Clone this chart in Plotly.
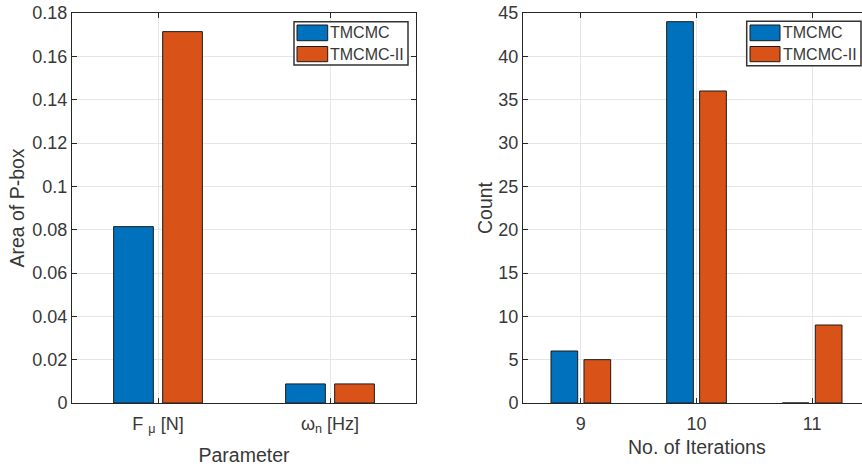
import plotly.graph_objects as go

# ---- data ----
series_names = ["TMCMC", "TMCMC-II"]
series_colors = ["#0072BD", "#D95319"]

param_categories = ["F <sub>μ</sub> [N]", "ω<sub>n</sub> [Hz]"]
pbox_tmcmc = [0.0814, 0.0088]
pbox_tmcmc2 = [0.1714, 0.0088]

iterations = [9, 10, 11]
count_tmcmc = [6, 44, 0]
count_tmcmc2 = [5, 36, 9]

left_ticks = [0, 0.02, 0.04, 0.06, 0.08, 0.1, 0.12, 0.14, 0.16, 0.18]
right_ticks = [0, 5, 10, 15, 20, 25, 30, 35, 40, 45]

W, H = 862, 466
FONT = "Liberation Sans, Arial, Helvetica, sans-serif"
AX = "#262626"
TXT = "#383838"
GRID = "#e6e6e6"

fig = go.Figure()
for name, color, vals in zip(series_names, series_colors, [pbox_tmcmc, pbox_tmcmc2]):
    fig.add_trace(go.Bar(x=param_categories, y=vals, name=name, marker_color=color,
                         marker_line=dict(color="#1a1a1a", width=1),
                         xaxis="x", yaxis="y", showlegend=False))
for name, color, vals in zip(series_names, series_colors, [count_tmcmc, count_tmcmc2]):
    fig.add_trace(go.Bar(x=iterations, y=vals, name=name, marker_color=color,
                         marker_line=dict(color="#1a1a1a", width=1),
                         xaxis="x2", yaxis="y2", showlegend=False))

axcommon = dict(showline=True, linecolor=AX, linewidth=1, ticks="inside", ticklen=5,
                tickcolor=AX, showgrid=True, gridcolor=GRID, gridwidth=1, zeroline=False,
                tickfont=dict(family=FONT, size=18, color=TXT))

L0, L1 = 72 / W, 416 / W
R0, R1 = 523 / W, 1.0
TS = 19.5

fig.update_layout(
    width=W, height=H,
    margin=dict(l=0, r=0, t=13, b=63),
    paper_bgcolor="white", plot_bgcolor="white",
    barmode="group", bargap=0.43, bargroupgap=0.19,
    font=dict(family=FONT, color=TXT),
    xaxis=dict(domain=[L0, L1], type="category", range=[-0.5, 1.5], mirror="allticks",
               anchor="y", ticklabelstandoff=4,
               title=dict(text="Parameter", font=dict(size=TS, color=TXT), standoff=12),
               **axcommon),
    yaxis=dict(domain=[0, 1], range=[0, 0.18], tickvals=left_ticks, mirror="allticks",
               anchor="x",
               title=dict(text="Area of P-box", font=dict(size=TS, color=TXT), standoff=2),
               **axcommon),
    xaxis2=dict(domain=[R0, R1], range=[8.5, 8.5 + (862 - 523) / 115.67], tickvals=iterations,
                mirror="allticks", anchor="y2", ticklabelstandoff=4, **axcommon),
    yaxis2=dict(domain=[0, 1], range=[0, 45], tickvals=right_ticks, mirror=False, anchor="x2",
                title=dict(text="Count", font=dict(size=TS, color=TXT), standoff=0),
                **axcommon),
)

# x title for right panel centred on the full (clipped) axis
fig.add_annotation(text="No. of Iterations", xref="paper", yref="paper",
                   x=696.5 / W, y=-44 / 390, xanchor="center", yanchor="middle",
                   showarrow=False, font=dict(family=FONT, size=TS, color=TXT))

# custom MATLAB-like legends
def add_legend(x0, x1, y0, y1, sw0, sw1):
    fig.add_shape(type="rect", xref="paper", yref="paper",
                  x0=x0 / W, x1=x1 / W, y0=1 - (y1 - 13) / 390, y1=1 - (y0 - 13) / 390,
                  fillcolor="white", line=dict(color="#333333", width=1.5), layer="above")
    rows = [(25, 40.7), (46.5, 61.7)]
    for (ry0, ry1), name, color in zip(rows, series_names, series_colors):
        fig.add_shape(type="rect", xref="paper", yref="paper",
                      x0=sw0 / W, x1=sw1 / W,
                      y0=1 - (ry1 - 13) / 390, y1=1 - (ry0 - 13) / 390,
                      fillcolor=color, line=dict(color="#1a1a1a", width=1), layer="above")
        fig.add_annotation(text=name, xref="paper", yref="paper",
                           x=(sw1 + 0.5) / W, y=1 - ((ry0 + ry1) / 2 - 13) / 390,
                           xanchor="left", yanchor="middle", showarrow=False,
                           font=dict(family=FONT, size=16, color=TXT))

add_legend(294, 408, 21.7, 65, 297, 327.7)
add_legend(746.7, 861, 21.3, 65.7, 750, 780)

fig.write_html("out.html")
